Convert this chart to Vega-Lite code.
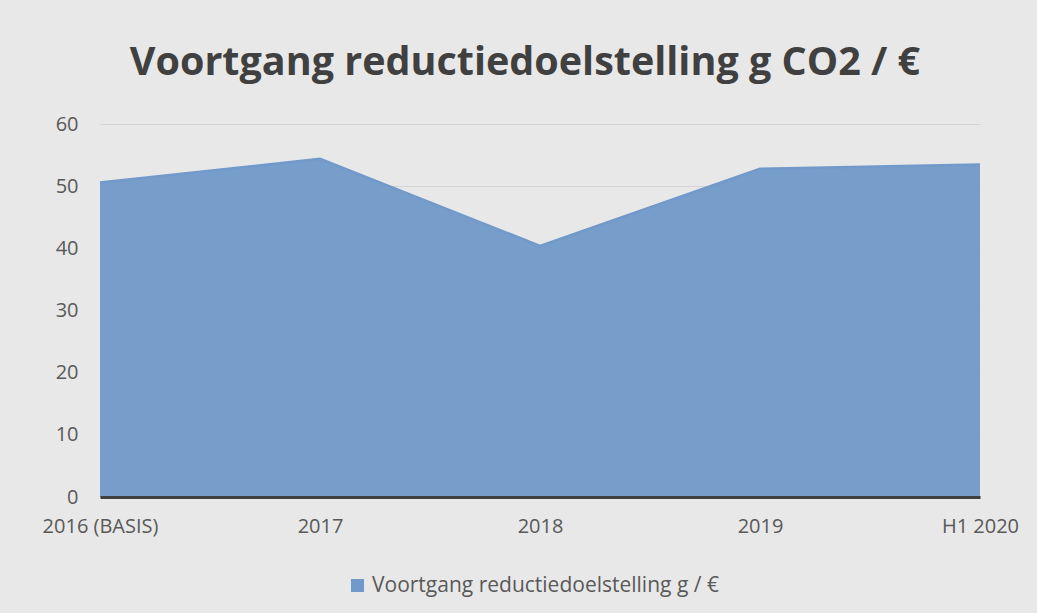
{
  "$schema": "https://vega.github.io/schema/vega-lite/v6.json",
  "autosize": "none",
  "width": 880,
  "height": 373,
  "padding": {"left": 100, "top": 124, "right": 57, "bottom": 116},
  "background": "#e8e8e8",
  "title": {
    "text": "Voortgang reductiedoelstelling g CO2 / €",
    "font": "Open Sans",
    "fontSize": 39.5,
    "fontWeight": "bold",
    "color": "#404040",
    "anchor": "middle",
    "frame": "group",
    "baseline": "alphabetic",
    "offset": 0,
    "dx": -15
  },
  "data": {
    "values": [
      {"periode": "2016 (BASIS)", "waarde": 50.6, "reeks": "Voortgang reductiedoelstelling g / €"},
      {"periode": "2017", "waarde": 54.4, "reeks": "Voortgang reductiedoelstelling g / €"},
      {"periode": "2018", "waarde": 40.4, "reeks": "Voortgang reductiedoelstelling g / €"},
      {"periode": "2019", "waarde": 52.8, "reeks": "Voortgang reductiedoelstelling g / €"},
      {"periode": "H1 2020", "waarde": 53.5, "reeks": "Voortgang reductiedoelstelling g / €"}
    ]
  },
  "mark": {
    "type": "area",
    "fillOpacity": 0.95,
    "line": {"color": "#f4f8fc", "strokeWidth": 2.5}
  },
  "encoding": {
    "x": {
      "field": "periode",
      "type": "ordinal",
      "sort": null,
      "scale": {"type": "point", "padding": 0},
      "axis": {
        "title": null,
        "labelAngle": 0,
        "labelFont": "Open Sans",
        "labelFontSize": 20,
        "labelColor": "#595959",
        "labelPadding": 19,
        "ticks": false,
        "domainColor": "#404040",
        "domainWidth": 3,
        "grid": false,
        "zindex": 1
      }
    },
    "y": {
      "field": "waarde",
      "type": "quantitative",
      "scale": {"domain": [0, 60], "nice": false},
      "axis": {
        "title": null,
        "values": [0, 10, 20, 30, 40, 50, 60],
        "labelFont": "Open Sans",
        "labelFontSize": 20,
        "labelColor": "#595959",
        "labelPadding": 22,
        "ticks": false,
        "domain": false,
        "gridColor": "#d4d4d4",
        "gridWidth": 1
      }
    },
    "color": {
      "field": "reeks",
      "type": "nominal",
      "scale": {"range": ["#7199c9"]},
      "legend": {
        "title": null,
        "orient": "none",
        "legendX": 247,
        "legendY": 451,
        "symbolType": "square",
        "symbolSize": 170,
        "symbolStrokeWidth": 0,
        "labelFont": "Open Sans",
        "labelFontSize": 21,
        "labelLimit": 0,
        "labelColor": "#595959",
        "labelOffset": 4
      }
    }
  },
  "config": {
    "view": {"stroke": null}
  }
}
